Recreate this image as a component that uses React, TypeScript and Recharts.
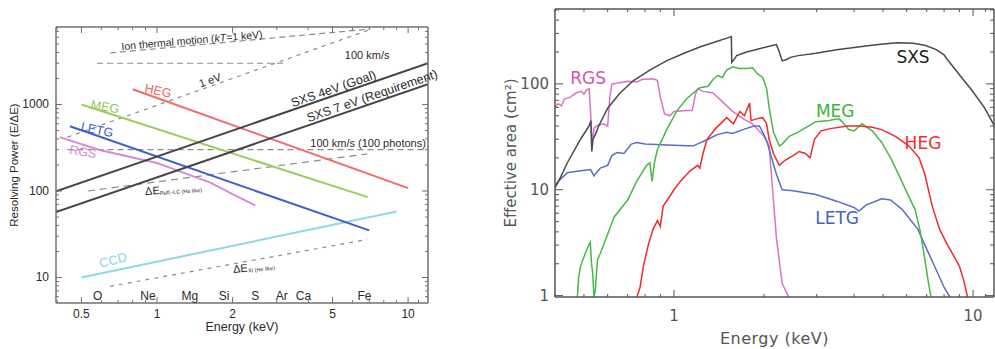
import React from 'react';
import { LineChart, Line, XAxis, YAxis, ReferenceDot } from 'recharts';

type P = [number, number][];

// ---------- Left panel: resolving power (E/dE) vs energy (keV) ----------
const sxsGoal: P = [[0.396, 99], [12, 3000]];
const sxsReq: P = [[0.396, 57], [12, 1714]];
const hegRes: P = [[0.8, 1500], [10, 108]];
const megRes: P = [[0.5, 1000], [6.9, 85]];
const letgRes: P = [[0.45, 560], [7, 35]];
const rgsRes: P = [[0.41, 420], [0.59, 298], [1.0, 211], [1.13, 185], [1.63, 125], [2.0, 92], [2.46, 68]];
const ccdRes: P = [[0.5, 10], [9, 58]];
const ionThermal: P = [[0.65, 3940], [7.06, 7460]];
const oneEv: P = [[0.44, 420], [7.0, 7300]];
const kms100: P = [[0.577, 3000], [3.3, 3000]];
const kms100ph: P = [[0.44, 300], [12, 300]];
const dEreflLc: P = [[0.53, 100], [6.87, 268]];
const dExi: P = [[0.65, 7.9], [6.87, 27.5]];
const elementNames = ['O', 'Ne', 'Mg', 'Si', 'S', 'Ar', 'Ca', 'Fe'];
const elementE = [0.58, 0.92, 1.35, 1.85, 2.46, 3.14, 3.83, 6.7];
const elementRow = 6.1;

const leftXTicks = [0.4, 0.5, 0.6, 0.7, 0.8, 0.9, 1, 2, 3, 4, 5, 6, 7, 8, 9, 10, 11];
const leftXLabels = [0.5, 1, 2, 5, 10];
const leftYTicks = [6, 7, 8, 9, 10, 20, 30, 40, 50, 60, 70, 80, 90, 100, 200, 300, 400, 500, 600, 700, 800, 900, 1000, 2000, 3000, 4000, 5000, 6000, 7000];
const leftYLabels = [10, 100, 1000];

// ---------- Right panel: effective area (cm^2) vs energy (keV) ----------
const sxsArea: P = [
  [0.4, 10.5], [0.41, 11.8], [0.44, 18], [0.487, 30], [0.52, 40], [0.527, 45], [0.531, 23], [0.536, 30],
  [0.545, 33], [0.56, 40], [0.6, 59], [0.66, 82], [0.73, 107], [0.83, 135], [0.947, 166], [1.08, 195],
  [1.22, 223], [1.38, 250], [1.53, 275], [1.555, 280], [1.56, 160], [1.6, 175], [1.62, 185], [1.75, 200],
  [1.93, 215], [2.15, 232], [2.2, 235], [2.25, 200], [2.3, 165], [2.38, 170], [2.45, 178], [2.6, 185],
  [2.98, 195], [3.5, 210], [4.38, 228], [5.0, 238], [5.6, 245], [6.3, 242], [6.9, 232], [7.5, 212],
  [8.0, 188], [8.2, 170], [8.5, 150], [9.0, 122], [9.85, 89], [10.9, 60], [11.8, 40],
];
const rgsArea: P = [
  [0.4, 60], [0.41, 65], [0.42, 62], [0.43, 72], [0.45, 75], [0.47, 82], [0.49, 85], [0.5, 80], [0.51, 88],
  [0.52, 90], [0.525, 60], [0.53, 35], [0.535, 30], [0.54, 38], [0.55, 40], [0.58, 42], [0.6, 40], [0.61, 75],
  [0.62, 100], [0.65, 102], [0.7, 106], [0.75, 104], [0.78, 110], [0.85, 112], [0.88, 108], [0.9, 75],
  [0.93, 52], [0.97, 50], [1.0, 55], [1.1, 56], [1.15, 56], [1.18, 80], [1.2, 90], [1.25, 85], [1.35, 82],
  [1.45, 68], [1.57, 55], [1.7, 47], [1.83, 42], [2.0, 32], [2.08, 26], [2.15, 8], [2.2, 3.5], [2.3, 1.3],
  [2.45, 0.9],
];
const megArea: P = [
  [0.475, 0.95], [0.48, 1.5], [0.487, 1.9], [0.51, 2.7], [0.525, 3.2], [0.53, 2.0], [0.535, 1.6], [0.54, 0.95],
  [0.545, 1.1], [0.555, 2.2], [0.567, 2.5], [0.6, 3.8], [0.63, 5.5], [0.7, 8], [0.75, 12], [0.81, 17],
  [0.83, 18], [0.845, 12], [0.86, 18], [0.88, 24], [0.95, 38], [1.02, 55], [1.1, 72], [1.22, 92], [1.3, 95],
  [1.35, 110], [1.4, 120], [1.45, 115], [1.5, 135], [1.57, 145], [1.65, 140], [1.75, 140], [1.83, 142],
  [1.9, 125], [1.98, 115], [2.04, 90], [2.08, 60], [2.15, 35], [2.25, 26], [2.3, 27], [2.43, 32], [2.6, 35],
  [2.98, 44], [3.3, 45], [3.56, 47], [3.7, 42], [3.84, 37], [4.0, 36], [4.25, 42], [4.6, 36], [4.95, 28],
  [5.3, 20], [5.6, 14.5], [6.0, 9.5], [6.4, 6.5], [6.64, 4.2], [6.9, 2.2], [7.1, 1.3], [7.25, 0.95],
];
const hegArea: P = [
  [0.75, 0.95], [0.77, 1.2], [0.79, 1.9], [0.82, 3.0], [0.85, 4.2], [0.88, 5.1], [0.9, 4.5], [0.92, 7],
  [0.95, 8], [1.0, 10], [1.05, 12], [1.13, 15], [1.2, 17], [1.22, 16], [1.25, 22], [1.29, 30], [1.38, 38],
  [1.5, 48], [1.58, 42], [1.66, 55], [1.72, 50], [1.79, 66], [1.81, 45], [1.9, 47], [1.98, 48], [2.04, 42],
  [2.08, 30], [2.15, 22], [2.25, 17], [2.35, 19], [2.5, 21], [2.62, 23], [2.75, 22], [2.85, 20], [2.95, 30],
  [3.1, 36], [3.37, 38], [3.8, 40], [4.15, 40], [4.6, 39], [4.95, 37], [5.5, 32], [6.1, 26], [6.6, 20],
  [6.9, 14], [7.3, 7], [7.74, 4.2], [8.17, 3.1], [8.6, 2.4], [9.0, 1.9], [9.3, 1.4], [9.6, 0.95],
];
const letgArea: P = [
  [0.4, 11], [0.41, 12], [0.44, 14.5], [0.48, 15], [0.526, 15.5], [0.54, 13.5], [0.55, 14.5], [0.567, 16],
  [0.6, 17], [0.62, 21], [0.646, 22.5], [0.68, 22], [0.72, 27], [0.75, 28], [0.8, 27], [0.95, 26.5],
  [1.1, 26], [1.16, 26], [1.3, 30], [1.39, 33], [1.5, 35], [1.57, 34], [1.7, 37], [1.85, 40], [1.93, 40],
  [2.0, 33], [2.05, 28], [2.12, 20], [2.2, 14], [2.3, 10], [2.5, 9.8], [2.98, 9.0], [3.5, 7.8], [4.0, 6.8],
  [4.15, 6.3], [4.4, 7.2], [4.95, 8.2], [5.3, 8.0], [5.8, 6.5], [6.55, 4.2], [6.9, 3.0], [7.37, 2.0],
  [8.0, 1.2], [8.4, 0.95],
];

const rightXTicks = [0.4, 0.5, 0.6, 0.7, 0.8, 0.9, 1, 2, 3, 4, 5, 6, 7, 8, 9, 10, 11];
const rightXLabels = [1, 10];
const rightYTicks = [1, 2, 3, 4, 5, 6, 7, 8, 9, 10, 20, 30, 40, 50, 60, 70, 80, 90, 100, 200, 300, 400, 500];
const rightYLabels = [1, 10, 100];

const pts = (a: P) => a.map(([x, y]) => ({ x, y }));

const SANS = '"Liberation Sans", Arial, sans-serif';
const DJV = '"DejaVu Sans", sans-serif';

type TickCfg = {
  side: 'bottom' | 'top' | 'left' | 'right';
  labels: number[];
  major: number;
  minor: number;
  stroke: string;
  sw: number;
  fs: number;
  font: string;
  color: string;
  gap: number;
  show: boolean;
};

function makeTick(cfg: TickCfg) {
  return (p: any) => {
    const v = p?.payload?.value;
    const x = p.x;
    const y = p.y;
    const isMaj = cfg.labels.some((l) => Math.abs(l - v) < 1e-9);
    const len = isMaj ? cfg.major : cfg.minor;
    let x2 = x, y2 = y, tx = x, ty = y;
    let anchor: any = 'middle';
    if (cfg.side === 'bottom') { y2 = y - len; ty = y + cfg.gap; }
    else if (cfg.side === 'top') { y2 = y + len; }
    else if (cfg.side === 'left') { x2 = x + len; tx = x - cfg.gap; anchor = 'end'; }
    else { x2 = x - len; }
    return (
      <g>
        <line x1={x} y1={y} x2={x2} y2={y2} stroke={cfg.stroke} strokeWidth={cfg.sw} />
        {cfg.show && isMaj ? (
          <text x={tx} y={ty} textAnchor={anchor} dominantBaseline="central" fontSize={cfg.fs} fontFamily={cfg.font} fill={cfg.color}>
            {String(v)}
          </text>
        ) : null}
      </g>
    );
  };
}

const Tag = (p: any) => {
  const vb = p.viewBox || { x: 0, y: 0, width: 0, height: 0 };
  const cx = vb.x + (vb.width || 0) / 2;
  const cy = vb.y + (vb.height || 0) / 2;
  return (
    <text
      x={cx}
      y={cy}
      transform={p.rot ? `rotate(${p.rot} ${cx} ${cy})` : undefined}
      textAnchor={p.anc || 'middle'}
      dominantBaseline="central"
      fontSize={p.fs}
      fontFamily={p.ff}
      fill={p.col}
      fontWeight={p.fw || 'normal'}
    >
      {p.txt}
      {p.sub ? (
        <tspan fontSize={p.fs * 0.5} dy={3}>{p.sub}</tspan>
      ) : null}
    </text>
  );
};

const AxisTitle = (p: any) => {
  const vb = p.viewBox || { x: 0, y: 0, width: 0, height: 0 };
  if (p.vert) {
    const x = vb.x + p.off;
    const y = vb.y + vb.height / 2;
    return (
      <text x={x} y={y} transform={`rotate(-90 ${x} ${y})`} textAnchor="middle" dominantBaseline="central" fontSize={p.fs} fontFamily={p.ff} fill={p.col}>
        {p.txt}
      </text>
    );
  }
  const x = vb.x + vb.width / 2;
  const y = vb.y + p.off;
  return (
    <text x={x} y={y} textAnchor="middle" dominantBaseline="central" fontSize={p.fs} fontFamily={p.ff} fill={p.col} letterSpacing={p.ls || 0}>
      {p.txt}
    </text>
  );
};

const BLK = '#2a2a2a';
const L_FRAME = '#707070';
const DASH = '#8c8c8c';

const leftTags = [
  { x: 1.378, y: 5570, txt: <>Ion thermal motion (<tspan fontStyle="italic">kT</tspan>=1 keV)</>, rot: -5, fs: 10.5, col: BLK },
  { x: 6.87, y: 3735, txt: '100 km/s', rot: 0, fs: 11, col: BLK },
  { x: 1.626, y: 1919, txt: '1 eV', rot: -19, fs: 11, col: BLK },
  { x: 1.01, y: 1432, txt: 'HEG', rot: 12, fs: 12.5, col: '#f06262' },
  { x: 0.62, y: 936, txt: 'MEG', rot: 10, fs: 12.5, col: '#92c64c' },
  { x: 0.577, y: 507, txt: 'LETG', rot: 12, fs: 12.5, col: '#3a5cc8' },
  { x: 0.507, y: 282, txt: 'RGS', rot: 10, fs: 12.5, col: '#d884d4' },
  { x: 5.05, y: 1511, txt: 'SXS 4eV (Goal)', rot: -19, fs: 12.5, col: BLK },
  { x: 7.19, y: 1253, txt: 'SXS 7 eV (Requirement)', rot: -19, fs: 12.5, col: BLK },
  { x: 6.93, y: 359, txt: '100 km/s (100 photons)', rot: 0, fs: 11, col: BLK },
  { x: 0.668, y: 15.9, txt: 'CCD', rot: -15, fs: 13, col: '#88d6e2' },
];

const leftSubTags = [
  { x: 0.896, y: 100, txt: 'ΔE', sub: 'Refl.-LC (He like)', rot: -4 },
  { x: 2.008, y: 12.5, txt: 'ΔE', sub: 'XI (He like)', rot: -6 },
];

const rightTags = [
  { x: 6.3, y: 178, txt: 'SXS', col: '#1e1e1e' },
  { x: 0.516, y: 113, txt: 'RGS', col: '#d454ac' },
  { x: 3.46, y: 56, txt: 'MEG', col: '#3cb43c' },
  { x: 6.8, y: 27.9, txt: 'HEG', col: '#f02e2e' },
  { x: 3.51, y: 5.43, txt: 'LETG', col: '#4462c4' },
];

function LeftChart() {
  const tickBase = { stroke: L_FRAME, sw: 1, fs: 12, font: SANS, color: BLK };
  const xb = makeTick({ ...tickBase, side: 'bottom', labels: leftXLabels, major: 6, minor: 3, gap: 11, show: true });
  const xt = makeTick({ ...tickBase, side: 'top', labels: leftXLabels, major: 6, minor: 3, gap: 0, show: false });
  const yl = makeTick({ ...tickBase, side: 'left', labels: leftYLabels, major: 6, minor: 3, gap: 7, show: true });
  const yr = makeTick({ ...tickBase, side: 'right', labels: leftYLabels, major: 6, minor: 3, gap: 0, show: false });
  const xDom: [number, number] = [0.396, 12];
  const yDom: [number, number] = [5.07, 7870];
  const solid = (d: P, c: string, w = 2) => (
    <Line data={pts(d)} dataKey="y" stroke={c} strokeWidth={w} dot={false} isAnimationActive={false} type="linear" />
  );
  const dashed = (d: P, dash: string) => (
    <Line data={pts(d)} dataKey="y" stroke={DASH} strokeWidth={1.2} strokeDasharray={dash} dot={false} isAnimationActive={false} type="linear" />
  );
  return (
    <LineChart width={440} height={349} margin={{ top: 26, right: 11, bottom: 0, left: 0 }}>
      <XAxis dataKey="x" type="number" scale="log" domain={xDom} allowDataOverflow ticks={leftXTicks} interval={0}
        tickSize={0} tickMargin={0} tickLine={false} axisLine={{ stroke: L_FRAME, strokeWidth: 1.5 }} height={46} tick={xb}
        label={<AxisTitle txt="Energy (keV)" off={24} fs={12.5} ff={SANS} col={BLK} />} />
      <XAxis xAxisId="top" orientation="top" dataKey="x" type="number" scale="log" domain={xDom} allowDataOverflow ticks={leftXTicks} interval={0}
        tickSize={0} tickMargin={0} tickLine={false} axisLine={{ stroke: L_FRAME, strokeWidth: 1.5 }} height={1} tick={xt} />
      <YAxis type="number" scale="log" domain={yDom} allowDataOverflow ticks={leftYTicks} interval={0}
        tickSize={0} tickMargin={0} tickLine={false} axisLine={{ stroke: L_FRAME, strokeWidth: 1.5 }} width={56} tick={yl}
        label={<AxisTitle vert txt="Resolving Power (E/ΔE)" off={14} fs={11.5} ff={SANS} col={BLK} />} />
      <YAxis yAxisId="right" orientation="right" type="number" scale="log" domain={yDom} allowDataOverflow ticks={leftYTicks} interval={0}
        tickSize={0} tickMargin={0} tickLine={false} axisLine={{ stroke: L_FRAME, strokeWidth: 1.5 }} width={1} tick={yr} />
      <Line xAxisId="top" yAxisId="right" data={pts(sxsGoal)} dataKey="y" stroke="none" dot={false} activeDot={false} legendType="none" isAnimationActive={false} />
      {dashed(ionThermal, '6 4')}
      {dashed(oneEv, '4 5')}
      {dashed(kms100, '6 4')}
      {dashed(kms100ph, '6 4')}
      {dashed(dEreflLc, '7 5')}
      {dashed(dExi, '4 5')}
      {solid(ccdRes, '#8fd8e4')}
      {solid(rgsRes, '#d88ad8')}
      {solid(letgRes, '#4060c8')}
      {solid(megRes, '#9ccc5a')}
      {solid(hegRes, '#f26a6a')}
      {solid(sxsGoal, '#454545')}
      {solid(sxsReq, '#454545')}
      {leftTags.map((t, i) => (
        <ReferenceDot key={'lt' + i} x={t.x} y={t.y} r={0} fill="none" stroke="none" ifOverflow="visible"
          label={<Tag txt={t.txt} rot={t.rot} fs={t.fs} ff={SANS} col={t.col} />} />
      ))}
      {leftSubTags.map((t, i) => (
        <ReferenceDot key={'ls' + i} x={t.x} y={t.y} r={0} fill="none" stroke="none" ifOverflow="visible"
          label={<Tag txt={t.txt} sub={t.sub} rot={t.rot} fs={11} ff={SANS} col={BLK} anc="start" />} />
      ))}
      {elementNames.map((n, i) => (
        <ReferenceDot key={'el' + i} x={elementE[i]} y={elementRow} r={0} fill="none" stroke="none" ifOverflow="visible"
          label={<Tag txt={n} fs={12} ff={SANS} col={BLK} />} />
      ))}
    </LineChart>
  );
}

function RightChart() {
  const R_FRAME = '#555555';
  const tickBase = { stroke: R_FRAME, sw: 1, fs: 15, font: DJV, color: '#555555' };
  const xb = makeTick({ ...tickBase, side: 'bottom', labels: rightXLabels, major: 7, minor: 3, gap: 19, show: true });
  const xt = makeTick({ ...tickBase, side: 'top', labels: rightXLabels, major: 7, minor: 3, gap: 0, show: false });
  const yl = makeTick({ ...tickBase, side: 'left', labels: rightYLabels, major: 8, minor: 4, gap: 6, show: true });
  const yr = makeTick({ ...tickBase, side: 'right', labels: rightYLabels, major: 8, minor: 4, gap: 0, show: false });
  const xDom: [number, number] = [0.4, 11.75];
  const yDom: [number, number] = [0.97, 510];
  const ln = (d: P, c: string) => (
    <Line data={pts(d)} dataKey="y" stroke={c} strokeWidth={1.5} dot={false} isAnimationActive={false} type="linear" />
  );
  return (
    <LineChart width={550} height={349} margin={{ top: 8, right: 0, bottom: 0, left: 0 }}>
      <XAxis dataKey="x" type="number" scale="log" domain={xDom} allowDataOverflow ticks={rightXTicks} interval={0}
        tickSize={0} tickMargin={0} tickLine={false} axisLine={{ stroke: R_FRAME, strokeWidth: 1.5 }} height={52} tick={xb}
        label={<AxisTitle txt="Energy (keV)" off={41} fs={16} ff={DJV} col="#555555" ls={0.5} />} />
      <XAxis xAxisId="top" orientation="top" dataKey="x" type="number" scale="log" domain={xDom} allowDataOverflow ticks={rightXTicks} interval={0}
        tickSize={0} tickMargin={0} tickLine={false} axisLine={{ stroke: R_FRAME, strokeWidth: 1.5 }} height={1} tick={xt} />
      <YAxis type="number" scale="log" domain={yDom} allowDataOverflow ticks={rightYTicks} interval={0}
        tickSize={0} tickMargin={0} tickLine={false} axisLine={{ stroke: R_FRAME, strokeWidth: 1.5 }} width={110} tick={yl}
        label={<AxisTitle vert txt="Effective area (cm²)" off={66} fs={15} ff={DJV} col="#555555" />} />
      <YAxis yAxisId="right" orientation="right" type="number" scale="log" domain={yDom} allowDataOverflow ticks={rightYTicks} interval={0}
        tickSize={0} tickMargin={0} tickLine={false} axisLine={{ stroke: R_FRAME, strokeWidth: 1.5 }} width={1} tick={yr} />
      <Line xAxisId="top" yAxisId="right" data={pts(sxsArea)} dataKey="y" stroke="none" dot={false} activeDot={false} legendType="none" isAnimationActive={false} />
      {ln(rgsArea, '#d874c4')}
      {ln(letgArea, '#5a6ec4')}
      {ln(megArea, '#48b848')}
      {ln(hegArea, '#f02a2a')}
      {ln(sxsArea, '#4a4a4a')}
      {rightTags.map((t, i) => (
        <ReferenceDot key={'rt' + i} x={t.x} y={t.y} r={0} fill="none" stroke="none" ifOverflow="visible"
          label={<Tag txt={t.txt} fs={17} ff={DJV} col={t.col} fw={500} />} />
      ))}
    </LineChart>
  );
}

export default function App() {
  return (
    <div style={{ position: 'absolute', left: 0, top: 0, width: 995, height: 349, background: '#fff', overflow: 'hidden' }}>
      <div style={{ position: 'absolute', left: 0, top: 0 }}>
        <LeftChart />
      </div>
      <div style={{ position: 'absolute', left: 445, top: 0 }}>
        <RightChart />
      </div>
    </div>
  );
}
